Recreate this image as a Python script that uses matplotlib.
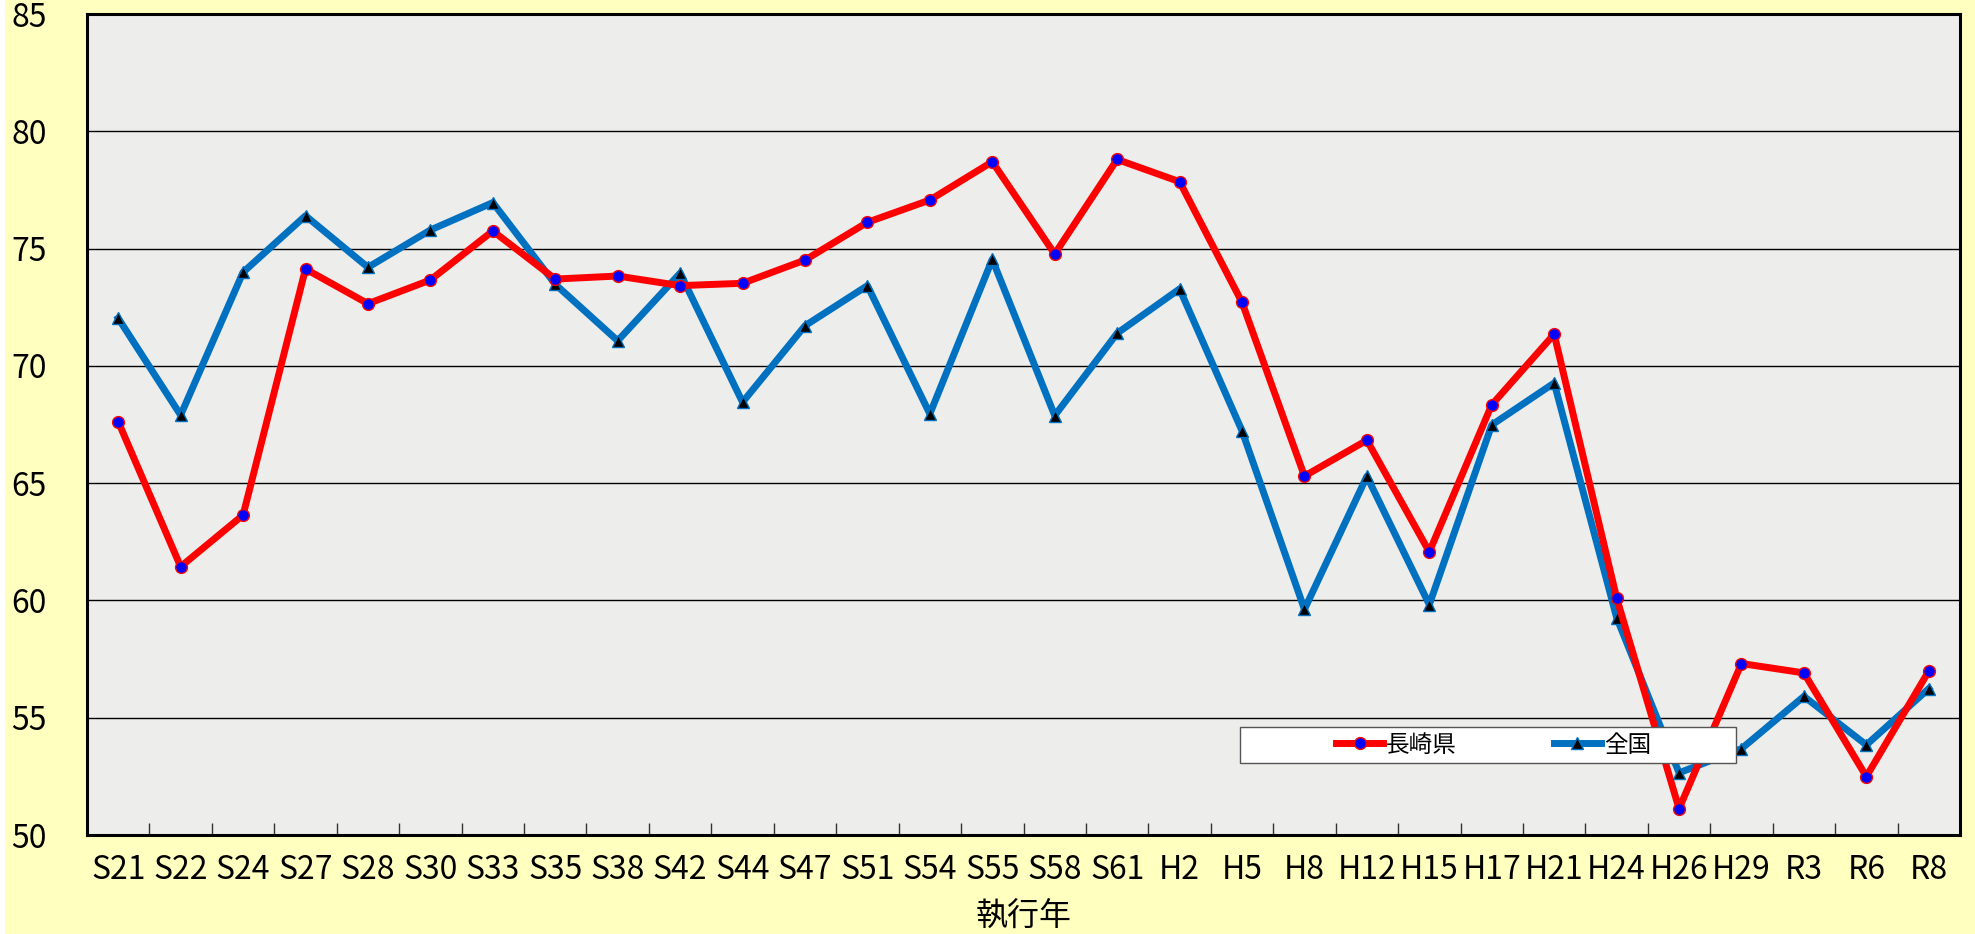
import numpy as np
import matplotlib
matplotlib.use('Agg')
import matplotlib.pyplot as plt
from matplotlib.patches import Rectangle

plt.rcParams['font.family'] = ['Noto Sans CJK JP', 'DejaVu Sans']

# 執行年
years = ['S21', 'S22', 'S24', 'S27', 'S28', 'S30', 'S33', 'S35', 'S38', 'S42',
         'S44', 'S47', 'S51', 'S54', 'S55', 'S58', 'S61', 'H2', 'H5', 'H8',
         'H12', 'H15', 'H17', 'H21', 'H24', 'H26', 'H29', 'R3', 'R6', 'R8']

nagasaki = [67.62, 61.44, 63.64, 74.13, 72.65, 73.66, 75.75, 73.70, 73.83, 73.42,
            73.52, 74.51, 76.12, 77.07, 78.70, 74.77, 78.80, 77.85, 72.71, 65.30,
            66.83, 62.07, 68.34, 71.35, 60.11, 51.12, 57.31, 56.91, 52.49, 56.99]

zenkoku = [72.03, 67.90, 73.99, 76.40, 74.20, 75.79, 76.96, 73.48, 71.07, 73.95,
           68.45, 71.71, 73.42, 67.95, 74.54, 67.88, 71.39, 73.28, 67.23, 59.62,
           65.29, 59.82, 67.48, 69.27, 59.27, 52.65, 53.68, 55.91, 53.84, 56.24]

yticks = [50, 55, 60, 65, 70, 75, 80, 85]

fig = plt.figure(figsize=(19.75, 9.34), dpi=100, facecolor='#FFFFC0')
# white strip on the left edge
fig.patches.append(Rectangle((0, 0), 5 / 1975, 1, transform=fig.transFigure,
                             facecolor='white', edgecolor='none', zorder=0))

ax = fig.add_axes([87 / 1975, 99 / 934, 1873 / 1975, 821 / 934])
ax.set_facecolor('#EDEDEB')

x = np.arange(len(years))
ax.plot(x, nagasaki, color='#FF0000', lw=5, marker='o', markersize=8.5,
        markerfacecolor='#0000FF', markeredgecolor='#FF0000', markeredgewidth=1,
        label='長崎県', zorder=4)
ax.plot(x, zenkoku, color='#0070C0', lw=5, marker='^', markersize=9,
        markerfacecolor='black', markeredgecolor='#0070C0', markeredgewidth=1,
        label='全国', zorder=3)

ax.set_xlim(-0.5, len(years) - 0.5)
ax.set_ylim(50, 85)
ax.set_yticks(yticks)
ax.set_yticklabels([str(v) for v in yticks], fontsize=23)
ax.tick_params(axis='y', length=0, pad=29)
for v in yticks[1:-1]:
    ax.axhline(v, color='black', lw=1, zorder=1)

# category boundary ticks (inward), labels at centres
ax.set_xticks(np.arange(len(years) - 1) + 0.5)
ax.set_xticklabels([])
ax.tick_params(axis='x', which='major', direction='in', length=9, width=1, color='#333333')
ax.set_xticks(x, minor=True)
ax.set_xticklabels(years, minor=True, fontsize=23)
ax.tick_params(axis='x', which='minor', length=0, pad=14)

ax.set_xlabel('執行年', fontsize=23, labelpad=10)

for s in ax.spines.values():
    s.set_linewidth(2.2)
    s.set_color('black')

# legend box
ax.add_patch(Rectangle((0.6156, 0.0877), 0.2648, 0.0438, transform=ax.transAxes,
                       facecolor='white', edgecolor='#555555', lw=1, zorder=5))
leg = ax.legend(loc='center', bbox_to_anchor=(0.751, 0.1096), ncol=2, frameon=False,
                prop={'size': 17},
                handlelength=2.0, handletextpad=0.12, columnspacing=4.1,
                borderaxespad=0, borderpad=0)
leg.set_zorder(6)

fig.savefig('out.png', dpi=100, facecolor=fig.get_facecolor())
